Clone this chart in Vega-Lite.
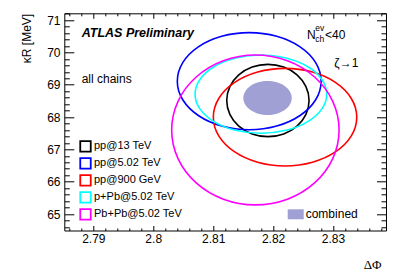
{
  "$schema": "https://vega.github.io/schema/vega-lite/v6.json",
  "width": 321.7,
  "height": 217.2,
  "autosize": "none",
  "padding": {"left": 64.3, "top": 13.3, "right": 21, "bottom": 45.5},
  "background": "white",
  "config": {
    "view": {"stroke": "black", "strokeWidth": 1},
    "font": "Liberation Sans",
    "axis": {"domain": false, "grid": false, "labelFont": "Liberation Sans", "labelColor": "black", "tickColor": "black", "labelFontSize": 12}
  },
  "resolve": {"axis": {"x": "independent", "y": "independent"}},
  "layer": [
    {
      "data": {"values": [
        {"s": "combined", "i": 0, "x": 2.82312, "y": 68.589},
        {"s": "combined", "i": 1, "x": 2.82281, "y": 68.790},
        {"s": "combined", "i": 2, "x": 2.82194, "y": 68.960},
        {"s": "combined", "i": 3, "x": 2.82063, "y": 69.074},
        {"s": "combined", "i": 4, "x": 2.81908, "y": 69.114},
        {"s": "combined", "i": 5, "x": 2.81753, "y": 69.074},
        {"s": "combined", "i": 6, "x": 2.81622, "y": 68.960},
        {"s": "combined", "i": 7, "x": 2.81535, "y": 68.790},
        {"s": "combined", "i": 8, "x": 2.81504, "y": 68.589},
        {"s": "combined", "i": 9, "x": 2.81535, "y": 68.388},
        {"s": "combined", "i": 10, "x": 2.81622, "y": 68.218},
        {"s": "combined", "i": 11, "x": 2.81753, "y": 68.104},
        {"s": "combined", "i": 12, "x": 2.81908, "y": 68.064},
        {"s": "combined", "i": 13, "x": 2.82063, "y": 68.104},
        {"s": "combined", "i": 14, "x": 2.82194, "y": 68.218},
        {"s": "combined", "i": 15, "x": 2.82281, "y": 68.388}
      ]},
      "mark": {"type": "line", "interpolate": "cardinal-closed", "strokeWidth": 0},
      "encoding": {
        "x": {"field": "x", "type": "quantitative", "scale": {"domain": [2.78516, 2.83885], "nice": false, "zero": false},
              "axis": {"orient": "bottom", "values": [2.79, 2.8, 2.81, 2.82, 2.83], "format": "~g", "tickSize": -5, "labelPadding": 8,
                       "title": "ΔΦ", "titleFont": "Liberation Serif", "titleFontSize": 13, "titleFontWeight": "normal", "titleAlign": "right", "titleAnchor": "end", "titleBaseline": "alphabetic", "titleX": 316.7, "titleY": 37.5}},
        "y": {"field": "y", "type": "quantitative", "scale": {"domain": [64.49, 71.21], "nice": false, "zero": false},
              "axis": {"orient": "left", "values": [65, 66, 67, 68, 69, 70, 71], "tickSize": -9.5, "labelPadding": 13.8,
                       "title": "κR [MeV]", "titleFont": "Liberation Sans", "titleFontSize": 12, "titleFontWeight": "normal", "titleAngle": -90, "titleAlign": "right", "titleAnchor": "end", "titleBaseline": "alphabetic", "titleX": -33.5, "titleY": 0}},
        "order": {"field": "i", "type": "quantitative"},
        "fill": {"field": "s", "type": "nominal", "scale": {"domain": ["combined"], "range": ["#a0a0d4"]},
                 "legend": {"title": null, "orient": "none", "legendX": 223.4, "legendY": 193, "symbolType": "M-1,-0.625H1V0.625H-1Z", "symbolSize": 256, "symbolStrokeWidth": 0, "labelFont": "Liberation Sans", "labelFontSize": 12, "labelColor": "black", "labelOffset": 2, "padding": 0}}
      }
    },
    {
      "data": {"values": [
        {"s": "pp@13 TeV", "i": 0, "x": 2.82601, "y": 68.512},
        {"s": "pp@13 TeV", "i": 1, "x": 2.82549, "y": 68.940},
        {"s": "pp@13 TeV", "i": 2, "x": 2.82400, "y": 69.303},
        {"s": "pp@13 TeV", "i": 3, "x": 2.82177, "y": 69.546},
        {"s": "pp@13 TeV", "i": 4, "x": 2.81914, "y": 69.631},
        {"s": "pp@13 TeV", "i": 5, "x": 2.81651, "y": 69.546},
        {"s": "pp@13 TeV", "i": 6, "x": 2.81428, "y": 69.303},
        {"s": "pp@13 TeV", "i": 7, "x": 2.81279, "y": 68.940},
        {"s": "pp@13 TeV", "i": 8, "x": 2.81227, "y": 68.512},
        {"s": "pp@13 TeV", "i": 9, "x": 2.81279, "y": 68.084},
        {"s": "pp@13 TeV", "i": 10, "x": 2.81428, "y": 67.721},
        {"s": "pp@13 TeV", "i": 11, "x": 2.81651, "y": 67.478},
        {"s": "pp@13 TeV", "i": 12, "x": 2.81914, "y": 67.393},
        {"s": "pp@13 TeV", "i": 13, "x": 2.82177, "y": 67.478},
        {"s": "pp@13 TeV", "i": 14, "x": 2.82400, "y": 67.721},
        {"s": "pp@13 TeV", "i": 15, "x": 2.82549, "y": 68.084},
        {"s": "pp@5.02 TeV", "i": 0, "x": 2.82802, "y": 69.111},
        {"s": "pp@5.02 TeV", "i": 1, "x": 2.82711, "y": 69.686},
        {"s": "pp@5.02 TeV", "i": 2, "x": 2.82451, "y": 70.173},
        {"s": "pp@5.02 TeV", "i": 3, "x": 2.82061, "y": 70.499},
        {"s": "pp@5.02 TeV", "i": 4, "x": 2.81602, "y": 70.613},
        {"s": "pp@5.02 TeV", "i": 5, "x": 2.81143, "y": 70.499},
        {"s": "pp@5.02 TeV", "i": 6, "x": 2.80753, "y": 70.173},
        {"s": "pp@5.02 TeV", "i": 7, "x": 2.80493, "y": 69.686},
        {"s": "pp@5.02 TeV", "i": 8, "x": 2.80402, "y": 69.111},
        {"s": "pp@5.02 TeV", "i": 9, "x": 2.80493, "y": 68.536},
        {"s": "pp@5.02 TeV", "i": 10, "x": 2.80753, "y": 68.049},
        {"s": "pp@5.02 TeV", "i": 11, "x": 2.81143, "y": 67.723},
        {"s": "pp@5.02 TeV", "i": 12, "x": 2.81602, "y": 67.609},
        {"s": "pp@5.02 TeV", "i": 13, "x": 2.82061, "y": 67.723},
        {"s": "pp@5.02 TeV", "i": 14, "x": 2.82451, "y": 68.049},
        {"s": "pp@5.02 TeV", "i": 15, "x": 2.82711, "y": 68.536},
        {"s": "pp@900 GeV", "i": 0, "x": 2.83397, "y": 67.997},
        {"s": "pp@900 GeV", "i": 1, "x": 2.83306, "y": 68.575},
        {"s": "pp@900 GeV", "i": 2, "x": 2.83046, "y": 69.065},
        {"s": "pp@900 GeV", "i": 3, "x": 2.82658, "y": 69.392},
        {"s": "pp@900 GeV", "i": 4, "x": 2.82200, "y": 69.507},
        {"s": "pp@900 GeV", "i": 5, "x": 2.81742, "y": 69.392},
        {"s": "pp@900 GeV", "i": 6, "x": 2.81354, "y": 69.065},
        {"s": "pp@900 GeV", "i": 7, "x": 2.81094, "y": 68.575},
        {"s": "pp@900 GeV", "i": 8, "x": 2.81003, "y": 67.997},
        {"s": "pp@900 GeV", "i": 9, "x": 2.81094, "y": 67.419},
        {"s": "pp@900 GeV", "i": 10, "x": 2.81354, "y": 66.929},
        {"s": "pp@900 GeV", "i": 11, "x": 2.81742, "y": 66.602},
        {"s": "pp@900 GeV", "i": 12, "x": 2.82200, "y": 66.487},
        {"s": "pp@900 GeV", "i": 13, "x": 2.82658, "y": 66.602},
        {"s": "pp@900 GeV", "i": 14, "x": 2.83046, "y": 66.929},
        {"s": "pp@900 GeV", "i": 15, "x": 2.83306, "y": 67.419},
        {"s": "p+Pb@5.02 TeV", "i": 0, "x": 2.82896, "y": 68.708},
        {"s": "p+Pb@5.02 TeV", "i": 1, "x": 2.82812, "y": 69.171},
        {"s": "p+Pb@5.02 TeV", "i": 2, "x": 2.82574, "y": 69.564},
        {"s": "p+Pb@5.02 TeV", "i": 3, "x": 2.82218, "y": 69.826},
        {"s": "p+Pb@5.02 TeV", "i": 4, "x": 2.81797, "y": 69.918},
        {"s": "p+Pb@5.02 TeV", "i": 5, "x": 2.81376, "y": 69.826},
        {"s": "p+Pb@5.02 TeV", "i": 6, "x": 2.81020, "y": 69.564},
        {"s": "p+Pb@5.02 TeV", "i": 7, "x": 2.80782, "y": 69.171},
        {"s": "p+Pb@5.02 TeV", "i": 8, "x": 2.80698, "y": 68.708},
        {"s": "p+Pb@5.02 TeV", "i": 9, "x": 2.80782, "y": 68.245},
        {"s": "p+Pb@5.02 TeV", "i": 10, "x": 2.81020, "y": 67.852},
        {"s": "p+Pb@5.02 TeV", "i": 11, "x": 2.81376, "y": 67.590},
        {"s": "p+Pb@5.02 TeV", "i": 12, "x": 2.81797, "y": 67.498},
        {"s": "p+Pb@5.02 TeV", "i": 13, "x": 2.82218, "y": 67.590},
        {"s": "p+Pb@5.02 TeV", "i": 14, "x": 2.82574, "y": 67.852},
        {"s": "p+Pb@5.02 TeV", "i": 15, "x": 2.82812, "y": 68.245},
        {"s": "Pb+Pb@5.02 TeV", "i": 0, "x": 2.83102, "y": 67.600},
        {"s": "Pb+Pb@5.02 TeV", "i": 1, "x": 2.82996, "y": 68.487},
        {"s": "Pb+Pb@5.02 TeV", "i": 2, "x": 2.82693, "y": 69.239},
        {"s": "Pb+Pb@5.02 TeV", "i": 3, "x": 2.82240, "y": 69.742},
        {"s": "Pb+Pb@5.02 TeV", "i": 4, "x": 2.81705, "y": 69.918},
        {"s": "Pb+Pb@5.02 TeV", "i": 5, "x": 2.81170, "y": 69.742},
        {"s": "Pb+Pb@5.02 TeV", "i": 6, "x": 2.80717, "y": 69.239},
        {"s": "Pb+Pb@5.02 TeV", "i": 7, "x": 2.80414, "y": 68.487},
        {"s": "Pb+Pb@5.02 TeV", "i": 8, "x": 2.80308, "y": 67.600},
        {"s": "Pb+Pb@5.02 TeV", "i": 9, "x": 2.80414, "y": 66.713},
        {"s": "Pb+Pb@5.02 TeV", "i": 10, "x": 2.80717, "y": 65.961},
        {"s": "Pb+Pb@5.02 TeV", "i": 11, "x": 2.81170, "y": 65.458},
        {"s": "Pb+Pb@5.02 TeV", "i": 12, "x": 2.81705, "y": 65.282},
        {"s": "Pb+Pb@5.02 TeV", "i": 13, "x": 2.82240, "y": 65.458},
        {"s": "Pb+Pb@5.02 TeV", "i": 14, "x": 2.82693, "y": 65.961},
        {"s": "Pb+Pb@5.02 TeV", "i": 15, "x": 2.82996, "y": 66.713}
      ]},
      "layer": [
        {
          "mark": {"type": "line", "interpolate": "cardinal-closed", "strokeWidth": 1.6},
          "encoding": {
            "x": {"field": "x", "type": "quantitative", "axis": null},
            "y": {"field": "y", "type": "quantitative", "axis": null},
            "order": {"field": "i", "type": "quantitative"},
            "stroke": {"field": "s", "type": "nominal",
                       "scale": {"domain": ["pp@13 TeV", "pp@5.02 TeV", "pp@900 GeV", "p+Pb@5.02 TeV", "Pb+Pb@5.02 TeV"], "range": ["#000000", "#0000ff", "#ff0000", "#00ffff", "#ff00ff"]},
                       "legend": {"title": null, "orient": "none", "legendX": 14.7, "legendY": 126.5, "symbolType": "square", "symbolSize": 110, "symbolStrokeWidth": 1.8, "symbolFillColor": "transparent", "labelFont": "Liberation Sans", "labelFontSize": 11, "labelColor": "black", "labelOffset": 2, "rowPadding": -2, "padding": 0}}
          }
        },
        {
          "mark": {"type": "point", "opacity": 0},
          "encoding": {
            "x": {"field": "x", "type": "quantitative", "axis": {"orient": "bottom", "values": [2.786, 2.788, 2.792, 2.794, 2.796, 2.798, 2.802, 2.804, 2.806, 2.808, 2.812, 2.814, 2.816, 2.818, 2.822, 2.824, 2.826, 2.828, 2.832, 2.834, 2.836, 2.838], "tickSize": -2.5, "labels": false, "title": null}},
            "y": {"field": "y", "type": "quantitative", "axis": {"orient": "left", "values": [64.6, 64.8, 65.2, 65.4, 65.6, 65.8, 66.2, 66.4, 66.6, 66.8, 67.2, 67.4, 67.6, 67.8, 68.2, 68.4, 68.6, 68.8, 69.2, 69.4, 69.6, 69.8, 70.2, 70.4, 70.6, 70.8, 71.2], "tickSize": -5, "labels": false, "title": null}}
          }
        },
        {
          "mark": {"type": "point", "opacity": 0},
          "encoding": {
            "x": {"field": "x", "type": "quantitative", "axis": {"orient": "top", "values": [2.79, 2.8, 2.81, 2.82, 2.83], "tickSize": -5, "labels": false, "title": null}},
            "y": {"field": "y", "type": "quantitative", "axis": {"orient": "right", "values": [65, 66, 67, 68, 69, 70, 71], "tickSize": -9.5, "labels": false, "title": null}}
          }
        },
        {
          "mark": {"type": "point", "opacity": 0},
          "encoding": {
            "x": {"field": "x", "type": "quantitative", "axis": {"orient": "top", "values": [2.786, 2.788, 2.792, 2.794, 2.796, 2.798, 2.802, 2.804, 2.806, 2.808, 2.812, 2.814, 2.816, 2.818, 2.822, 2.824, 2.826, 2.828, 2.832, 2.834, 2.836, 2.838], "tickSize": -2.5, "labels": false, "title": null}},
            "y": {"field": "y", "type": "quantitative", "axis": {"orient": "right", "values": [64.6, 64.8, 65.2, 65.4, 65.6, 65.8, 66.2, 66.4, 66.6, 66.8, 67.2, 67.4, 67.6, 67.8, 68.2, 68.4, 68.6, 68.8, 69.2, 69.4, 69.6, 69.8, 70.2, 70.4, 70.6, 70.8, 71.2], "tickSize": -5, "labels": false, "title": null}}
          }
        }
      ]
    },
    {
      "data": {"values": [{"t": "ATLAS Preliminary", "x": 2.78806, "y": 70.49}]},
      "mark": {"type": "text", "align": "left", "baseline": "alphabetic", "font": "Liberation Sans", "fontSize": 12.5, "fontWeight": "bold", "fontStyle": "italic", "color": "black"},
      "encoding": {"x": {"field": "x", "type": "quantitative", "axis": null}, "y": {"field": "y", "type": "quantitative", "axis": null}, "text": {"field": "t"}}
    },
    {
      "data": {"values": [
        {"t": "all chains", "x": 2.78806, "y": 69.062},
        {"t": "N", "x": 2.82568, "y": 70.403},
        {"t": "<40", "x": 2.82868, "y": 70.403},
        {"t": "ζ→1", "x": 2.83023, "y": 69.547}
      ]},
      "mark": {"type": "text", "align": "left", "baseline": "alphabetic", "font": "Liberation Sans", "fontSize": 12, "color": "black"},
      "encoding": {"x": {"field": "x", "type": "quantitative", "axis": null}, "y": {"field": "y", "type": "quantitative", "axis": null}, "text": {"field": "t"}}
    },
    {
      "data": {"values": [
        {"t": "ch", "x": 2.82705, "y": 70.320},
        {"t": "ev", "x": 2.82705, "y": 70.660}
      ]},
      "mark": {"type": "text", "align": "left", "baseline": "alphabetic", "font": "Liberation Sans", "fontSize": 8.5, "color": "black"},
      "encoding": {"x": {"field": "x", "type": "quantitative", "axis": null}, "y": {"field": "y", "type": "quantitative", "axis": null}, "text": {"field": "t"}}
    }
  ]
}
